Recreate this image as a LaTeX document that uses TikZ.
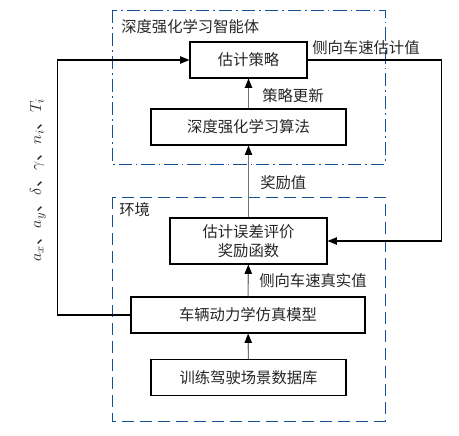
\documentclass[tikz,border=0pt]{standalone}
\usepackage{fontspec}
\usepackage{xcolor}
\usepackage{tikz}
\usetikzlibrary{arrows.meta}
\newfontfamily\cjk{Noto Sans CJK SC}
\definecolor{frameblue}{RGB}{20,80,150}

\begin{document}
\begin{tikzpicture}[
    x=0.75pt, y=-0.75pt,
    every node/.style={font=\cjk\fontsize{11.5}{14}\selectfont, text=black!85},
    block/.style={draw, thick, minimum width=#1, minimum height=27pt, align=center, inner sep=1pt},
    lbl/.style={anchor=west, inner sep=0pt},
    frame/.style={frameblue, line width=0.7pt},
    arr/.style={-{Triangle[length=7pt,width=5.5pt]}, thick},
    uparr/.style={thick, draw=black!55, -{Triangle[length=7pt,width=5.5pt,color=black]}}
]
\useasboundingbox (0,0) rectangle (459,435);

% frames
\draw[frame, dash pattern=on 10pt off 3pt on 1.2pt off 3pt] (112,10) rectangle (385,164);
\draw[frame, dash pattern=on 9pt off 4.5pt] (112,197) rectangle (385,421);
\node[lbl] (agentlbl) at (121,27) {深度强化学习智能体};
\node[lbl] (envlbl) at (119,210) {环境};

% blocks
\node[block=87.75pt] (policy) at (248.5,60) {估计策略};
\node[block=146.25pt] (algo) at (248.5,127) {深度强化学习算法};
\node[block=117.75pt, minimum height=34.5pt] (reward) at (248.5,241) {估计误差评价\\奖励函数};
\node[block=175.5pt] (vehicle) at (248,315) {车辆动力学仿真模型};
\node[block=146.25pt] (database) at (248.5,377.5) {训练驾驶场景数据库};

% arrows
\draw[uparr] (database) -- (vehicle);
\draw[uparr] (vehicle) -- (reward);
\draw[uparr] (reward) -- (algo);
\draw[uparr] (algo) -- (policy);
\draw[arr] (policy.east) -- ++(134,0) |- (reward.east);
\draw[arr] (vehicle.west) -- ++(-73,0) |- (policy.west);

% labels
\node[lbl] (estlbl) at (312,48) {侧向车速估计值};
\node[lbl] (updlbl) at (262,96) {策略更新};
\node[lbl] (rwdlbl) at (260,183) {奖励值};
\node[lbl] (truelbl) at (259,281) {侧向车速真实值};
\node[rotate=90, inner sep=0pt, font=\cjk\fontsize{13}{15}\selectfont] (inputs) at (38,180) {$a_x$、$a_y$、$\delta$、$\gamma$、$n_i$、$T_i$};
\end{tikzpicture}
\end{document}
